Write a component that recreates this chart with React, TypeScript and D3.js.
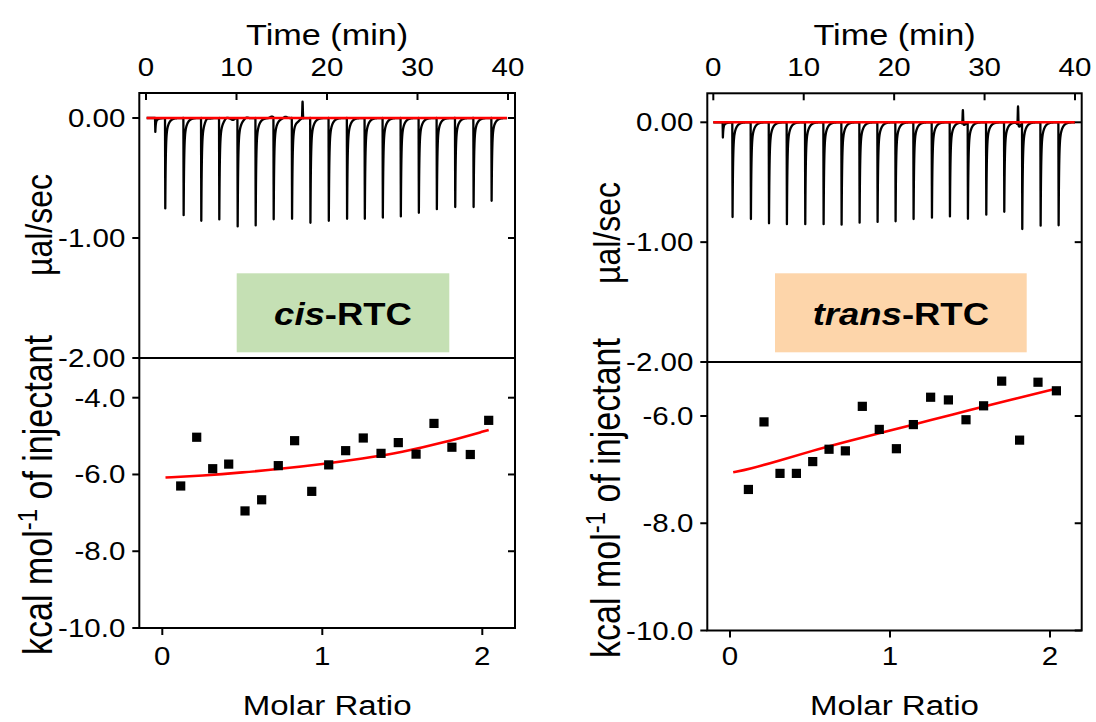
import React from "react";
import * as d3 from "d3";

// ---------- DATA ----------
// raw ITC thermogram (µcal/sec): injection times (min) and peak heights
const cisInjTimes = [1.0, 2.1, 4.13, 6.08, 8.07, 10.1, 12.09, 14.08, 16.11, 18.14, 20.17, 22.19, 24.15, 26.14, 28.13, 30.12, 32.11, 34.14, 36.17, 38.16];
const cisPeaks = [-0.116, -0.753, -0.81, -0.856, -0.845, -0.903, -0.895, -0.85, -0.84, -0.873, -0.856, -0.84, -0.84, -0.83, -0.82, -0.79, -0.76, -0.742, -0.742, -0.69];
const cisBumpT = [6.7, 8.9, 9.6, 11.1, 13.9, 15.4, 16.8];
const cisBumpH = [0.015, 0.012, -0.015, 0.01, 0.012, 0.012, -0.012];
const cisSpikeT = [17.3];
const cisSpikeH = [0.14];
const cisBaseT = [0.07, 39.9];
const cisBaseY = [0, 0];

const transInjTimes = [1.03, 2.1, 4.13, 6.13, 8.11, 10.14, 12.17, 14.16, 16.15, 18.14, 20.13, 22.12, 24.15, 26.14, 28.13, 30.16, 32.15, 34.14, 36.17, 38.16];
const transPeaks = [-0.127, -0.79, -0.807, -0.843, -0.85, -0.85, -0.85, -0.854, -0.837, -0.831, -0.826, -0.807, -0.796, -0.785, -0.804, -0.771, -0.746, -0.884, -0.862, -0.859];
const transBumpT = [27.75, 33.85];
const transBumpH = [-0.02, -0.035];
const transSpikeT = [27.6, 33.7];
const transSpikeH = [0.116, 0.157];
const transBaseT = [0.0, 40.0];
const transBaseY = [0, 0];

// integrated heats (kcal/mol of injectant) vs molar ratio
const cisRatio = [0.115, 0.215, 0.315, 0.415, 0.517, 0.621, 0.725, 0.827, 0.934, 1.04, 1.146, 1.256, 1.367, 1.475, 1.586, 1.698, 1.81, 1.925, 2.04];
const cisHeat = [-6.30, -5.03, -5.85, -5.73, -6.95, -6.66, -5.77, -5.12, -6.44, -5.75, -5.38, -5.05, -5.45, -5.17, -5.47, -4.67, -5.29, -5.48, -4.59];
const cisFitX = [0.02, 0.25, 0.5, 0.75, 1.0, 1.25, 1.5, 1.75, 2.04];
const cisFitY = [-6.08, -6.03, -5.95, -5.85, -5.73, -5.59, -5.42, -5.18, -4.84];

const transRatio = [0.115, 0.2125, 0.3125, 0.415, 0.517, 0.619, 0.721, 0.827, 0.933, 1.04, 1.146, 1.254, 1.365, 1.475, 1.585, 1.698, 1.81, 1.925, 2.04];
const transHeat = [-7.37, -6.11, -7.07, -7.07, -6.85, -6.62, -6.65, -5.82, -6.25, -6.61, -6.16, -5.65, -5.70, -6.07, -5.81, -5.35, -6.45, -5.37, -5.53];
const transFitX = [0.02, 0.12, 0.31, 0.5, 0.75, 1.0, 1.25, 1.5, 1.75, 2.04];
const transFitY = [-7.05, -6.99, -6.83, -6.66, -6.46, -6.27, -6.08, -5.89, -5.70, -5.49];

const timeTicks = [0, 10, 20, 30, 40];
const ratioTicks = [0, 1, 2];
const cisTopTicks = [0, -1, -2];
const transTopTicks = [0, -1, -2];
const cisBotTicks = [-4, -6, -8, -10];
const transBotTicks = [-6, -8, -10];

// ---------- HELPERS ----------
const FONT = "'Liberation Sans', Arial, Helvetica, sans-serif";
const SX = 1.18;

function buildTrace(times: number[], peaks: number[], bumpT: number[], bumpH: number[], spikeT: number[], spikeH: number[], t0: number, t1: number) {
  const pts: [number, number][] = [];
  for (let t = t0; t <= t1 + 1e-9; t += 0.01) {
    let v = 0;
    times.forEach((ti, i) => {
      const dt = t - ti;
      if (dt >= 0 && dt < 4) {
        v += peaks[i] * (dt < 0.03 ? dt / 0.03 : 0.75 * Math.exp(-(dt - 0.03) / 0.05) + 0.25 * Math.exp(-(dt - 0.03) / 0.28));
      }
    });
    bumpT.forEach((tb, i) => { v += bumpH[i] * Math.exp(-Math.pow((t - tb) / 0.25, 2)); });
    spikeT.forEach((ts, i) => { v += spikeH[i] * Math.exp(-Math.pow((t - ts) / 0.04, 2)); });
    pts.push([t, v]);
  }
  return pts;
}

function T(props: { x: number; y: number; size: number; anchor?: string; rot?: boolean; weight?: string; children: React.ReactNode }) {
  const { x, y, size, anchor = "middle", rot = false, weight = "normal", children } = props;
  return (
    <text
      transform={`translate(${x},${y}) scale(${SX},1)${rot ? " rotate(-90)" : ""}`}
      fontSize={size}
      fontFamily={FONT}
      textAnchor={anchor}
      fontWeight={weight}
      fill="#000"
    >
      {children}
    </text>
  );
}

type ChartProps = {
  id: string;
  fx0: number; fx1: number; fy0: number; fmid: number; fy1: number;
  tPx: [number, number];
  topPx: [number, number];
  ratioPx: [number, number];
  botDom: [number, number];
  botPx: [number, number];
  inj: number[]; peaks: number[]; bumpT: number[]; bumpH: number[]; spikeT: number[]; spikeH: number[];
  baseT: number[]; baseY: number[];
  ratio: number[]; heat: number[]; fitX: number[]; fitY: number[];
  topTicks: number[]; botTicks: number[];
  boxX: [number, number]; boxColor: string; italic: string;
  yLabX: number; muY: number; kcalY: number;
};

function Chart(p: ChartProps) {
  const xT = d3.scaleLinear().domain([0, 40]).range(p.tPx);
  const yTop = d3.scaleLinear().domain([0, -2]).range(p.topPx);
  const xR = d3.scaleLinear().domain([0, 2]).range(p.ratioPx);
  const yB = d3.scaleLinear().domain(p.botDom).range(p.botPx);

  const trace = buildTrace(p.inj, p.peaks, p.bumpT, p.bumpH, p.spikeT, p.spikeH, p.baseT[0], p.baseT[1]);
  const lineTop = d3.line<[number, number]>().x(d => xT(d[0])).y(d => yTop(d[1]));
  const base: [number, number][] = p.baseT.map((t, i) => [t, p.baseY[i]]);
  const fit: [number, number][] = p.fitX.map((x, i) => [x, p.fitY[i]]);
  const lineBot = d3.line<[number, number]>().x(d => xR(d[0])).y(d => yB(d[1])).curve(d3.curveBasis);
  const tick = 7;
  const cx = (p.fx0 + p.fx1) / 2;
  const boxC = (p.boxX[0] + p.boxX[1]) / 2;

  return (
    <g>
      <defs>
        <clipPath id={`clip-${p.id}`}>
          <rect x={p.fx0} y={p.fy0} width={p.fx1 - p.fx0} height={p.fmid - p.fy0} />
        </clipPath>
      </defs>
      {/* annotation box */}
      <rect x={p.boxX[0]} y={273.3} width={p.boxX[1] - p.boxX[0]} height={79} fill={p.boxColor} />
      <text
        transform={`translate(${boxC},325) scale(1.14,1)`}
        fontSize={32}
        fontFamily={FONT}
        fontWeight="bold"
        textAnchor="middle"
      >
        <tspan fontStyle="italic">{p.italic}</tspan>
        <tspan>-RTC</tspan>
      </text>

      {/* top trace */}
      <g clipPath={`url(#clip-${p.id})`}>
        <path d={lineTop(trace) || ""} fill="none" stroke="#000" strokeWidth={2.3} strokeLinejoin="round" />
        <path d={lineTop(base) || ""} fill="none" stroke="#ff0000" strokeWidth={2.6} />
      </g>

      {/* bottom data */}
      <path d={lineBot(fit) || ""} fill="none" stroke="#ff0000" strokeWidth={2.6} />
      {p.ratio.map((r, i) => (
        <rect key={i} x={xR(r) - 4.6} y={yB(p.heat[i]) - 4.6} width={9.2} height={9.2} fill="#000" />
      ))}

      {/* frames */}
      <rect x={p.fx0} y={p.fy0} width={p.fx1 - p.fx0} height={p.fy1 - p.fy0} fill="none" stroke="#000" strokeWidth={2} />
      <line x1={p.fx0} x2={p.fx1} y1={p.fmid} y2={p.fmid} stroke="#000" strokeWidth={2} />

      {/* top axis ticks */}
      {timeTicks.map(t => (
        <g key={t}>
          <line x1={xT(t)} x2={xT(t)} y1={p.fy0} y2={p.fy0 + tick} stroke="#000" strokeWidth={2} />
          <T x={xT(t)} y={76} size={25}>{t}</T>
        </g>
      ))}
      {/* top panel y ticks */}
      {p.topTicks.map(v => (
        <g key={v}>
          <line x1={p.fx0 - tick} x2={p.fx0} y1={yTop(v)} y2={yTop(v)} stroke="#000" strokeWidth={2} />
          <line x1={p.fx1 - tick} x2={p.fx1} y1={yTop(v)} y2={yTop(v)} stroke="#000" strokeWidth={2} />
          <T x={p.fx0 - 14} y={yTop(v) + 9} size={25} anchor="end">{v.toFixed(2)}</T>
        </g>
      ))}
      {/* bottom panel y ticks */}
      {p.botTicks.map(v => (
        <g key={v}>
          <line x1={p.fx0 - tick} x2={p.fx0} y1={yB(v)} y2={yB(v)} stroke="#000" strokeWidth={2} />
          <line x1={p.fx1 - tick} x2={p.fx1} y1={yB(v)} y2={yB(v)} stroke="#000" strokeWidth={2} />
          <T x={p.fx0 - 14} y={yB(v) + 9} size={25} anchor="end">{v.toFixed(1)}</T>
        </g>
      ))}
      {/* bottom x ticks */}
      {ratioTicks.map(r => (
        <g key={r}>
          <line x1={xR(r)} x2={xR(r)} y1={p.fy1} y2={p.fy1 + tick} stroke="#000" strokeWidth={2} />
          <T x={xR(r)} y={665} size={25}>{r}</T>
        </g>
      ))}

      {/* titles */}
      <T x={cx} y={45} size={29}>Time (min)</T>
      <T x={cx} y={715} size={28}>Molar Ratio</T>
      <T x={p.yLabX} y={p.muY} size={32} rot>µal/sec</T>
      <T x={p.yLabX} y={p.kcalY} size={34} rot>
        <tspan>kcal mol</tspan>
        <tspan fontSize={24} dy={-12}>-1</tspan>
        <tspan dy={12}> of injectant</tspan>
      </T>
    </g>
  );
}

export default function App() {
  return (
    <svg width={1096} height={722} style={{ position: "absolute", left: 0, top: 0, background: "#fff" }}>
      <rect width={1096} height={722} fill="#fff" />
      <Chart
        id="cis"
        fx0={139.3} fx1={515} fy0={93} fmid={358} fy1={628}
        tPx={[146, 508]} topPx={[118, 358]} ratioPx={[162.3, 482.3]}
        botDom={[-4, -10]} botPx={[397.7, 628]}
        inj={cisInjTimes} peaks={cisPeaks} bumpT={cisBumpT} bumpH={cisBumpH} spikeT={cisSpikeT} spikeH={cisSpikeH}
        baseT={cisBaseT} baseY={cisBaseY}
        ratio={cisRatio} heat={cisHeat} fitX={cisFitX} fitY={cisFitY}
        topTicks={cisTopTicks} botTicks={cisBotTicks}
        boxX={[236.7, 449.3]} boxColor="#c5e0b4" italic="cis"
        yLabX={51.5} muY={225} kcalY={495}
      />
      <Chart
        id="trans"
        fx0={707.3} fx1={1081.7} fy0={93.3} fmid={362} fy1={630.5}
        tPx={[713.3, 1075]} topPx={[122.3, 362]} ratioPx={[730, 1050]}
        botDom={[-6, -10]} botPx={[416, 630.5]}
        inj={transInjTimes} peaks={transPeaks} bumpT={transBumpT} bumpH={transBumpH} spikeT={transSpikeT} spikeH={transSpikeH}
        baseT={transBaseT} baseY={transBaseY}
        ratio={transRatio} heat={transHeat} fitX={transFitX} fitY={transFitY}
        topTicks={transTopTicks} botTicks={transBotTicks}
        boxX={[775, 1026.7]} boxColor="#fdd5aa" italic="trans"
        yLabX={619.5} muY={233} kcalY={498}
      />
    </svg>
  );
}
